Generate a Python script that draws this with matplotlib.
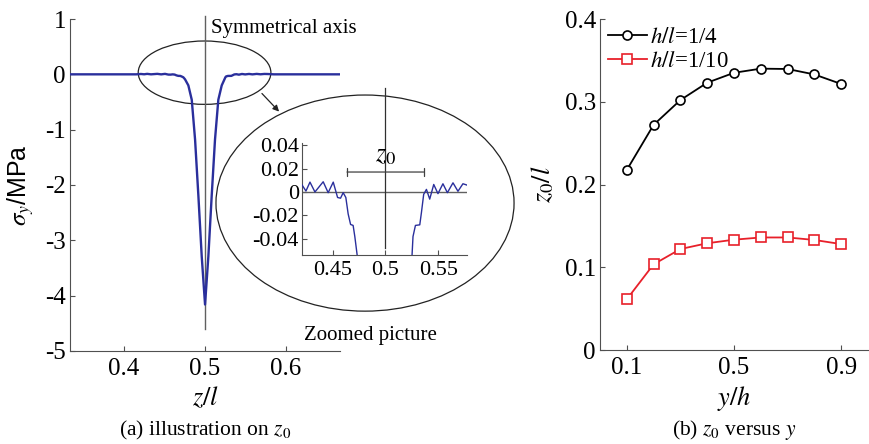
import numpy as np
import matplotlib
matplotlib.use('Agg')
import matplotlib.pyplot as plt
from matplotlib.patches import Ellipse

plt.rcParams['font.family'] = 'Liberation Serif'
plt.rcParams['mathtext.fontset'] = 'stix'
plt.rcParams['axes.unicode_minus'] = False

# stress along z/l (left panel + zoomed inset)
z_l = [0.3333, 0.4150, 0.4208, 0.4248, 0.4286, 0.4333, 0.4411, 0.4458, 0.4506,
       0.4547, 0.4575, 0.4600, 0.4625, 0.4647, 0.4670, 0.4694, 0.4710, 0.4732,
       0.4753, 0.4794, 0.4836, 0.4877, 0.4918, 0.4959, 0.5000,
       0.5041, 0.5082, 0.5123, 0.5164, 0.5206, 0.5240, 0.5251, 0.5260, 0.5283,
       0.5324, 0.5340, 0.5361, 0.5387, 0.5418, 0.5456, 0.5496, 0.5543, 0.5585,
       0.5638, 0.5685, 0.5732, 0.5770, 0.5850, 0.6667]
sigma_y = [0.0, 0.0, 0.0064, 0.0008, 0.0084, 0.0000, 0.0087, -0.0006, 0.0084,
           -0.0047, -0.0053, -0.0006, -0.0047, -0.0187, -0.0277, -0.0285, -0.0380, -0.0537,
           -0.09, -0.20, -0.46, -1.18, -2.20, -3.29, -4.16,
           -3.29, -2.20, -1.18, -0.46, -0.20, -0.09, -0.0537, -0.0380, -0.0285,
           -0.0280, -0.0173, -0.0020, 0.0022, -0.0061, 0.0064, -0.0014, 0.0070, -0.0006,
           0.0078, 0.0006, 0.0070, 0.0059, 0.0, 0.0]
z0_left, z0_right = 0.461, 0.5387

# z0/l versus y/h (right panel)
y_h = [0.1, 0.2, 0.3, 0.4, 0.5, 0.6, 0.7, 0.8, 0.9]
z0_quarter = [0.2175, 0.272, 0.302, 0.323, 0.335, 0.340, 0.3396, 0.333, 0.3215]
z0_tenth = [0.0612, 0.1035, 0.122, 0.129, 0.1333, 0.136, 0.136, 0.133, 0.128]

blue = '#2a2f9c'
spine_c = '#505050'


def style_axes(ax, size):
    for s in ['top', 'right']:
        ax.spines[s].set_visible(False)
    for s in ['left', 'bottom']:
        ax.spines[s].set_color(spine_c)
        ax.spines[s].set_linewidth(0.8)
    ax.tick_params(direction='in', length=3.5, width=0.8, color=spine_c,
                   labelsize=size)
    ax.tick_params(axis='x', pad=5)
    ax.tick_params(axis='y', pad=3)


fig = plt.figure(figsize=(8.69, 4.44), dpi=100)

# ---------- (a) ----------
ax1 = fig.add_axes([0.0806, 0.2095, 0.3107, 0.7477])
style_axes(ax1, 18)
ax1.plot(z_l, sigma_y, color=blue, lw=1.7, zorder=3)
ax1.plot([0.5, 0.5], [-4.6, 1.05], color='#606060', lw=1.0, clip_on=False, zorder=2)
ax1.set_xlim(1/3, 2/3)
ax1.set_ylim(-5, 1)
ax1.set_xticks([0.4, 0.5, 0.6])
ax1.set_xticklabels(['0.4', '0.5', '0.6'])
ax1.set_yticks([1, 0, -1, -2, -3, -4, -5])
ax1.set_yticklabels(['1', '0', '-1', '-2', '-3', '-4', '-5'])
ax1.set_xlabel(r'$z/l$', fontsize=19)
ax1.xaxis.set_label_coords(0.5, -0.1)
ax1.set_ylabel(r'$\sigma_y$/MPa', fontsize=18, family='Liberation Sans')
ax1.yaxis.set_label_coords(-0.125, 0.5)

ax1.add_patch(Ellipse((0.4994, 0.03), 0.1638, 1.145, fill=False, ec='#222222',
                      lw=0.9, clip_on=False))
ax1.add_patch(Ellipse((0.6975, -2.327), 0.368, 3.906, fill=False, ec='#222222',
                      lw=0.9, clip_on=False))
ax1.annotate('', xy=(0.5938, -0.71), xytext=(0.5679, -0.31),
             arrowprops=dict(arrowstyle='-|>', color='#222222', lw=0.9,
                             mutation_scale=9), annotation_clip=False)
ax1.text(0.5078, 0.82, 'Symmetrical axis', fontsize=15, va='center', ha='left')
ax1.text(0.6227, -4.72, 'Zoomed picture', fontsize=15, va='center', ha='left',
         clip_on=False)

# zoomed inset
ax_in = fig.add_axes([0.3472, 0.4257, 0.1899, 0.2516])
ax_in.patch.set_alpha(0)
style_axes(ax_in, 16)
ax_in.tick_params(axis='x', pad=4)
ax_in.tick_params(axis='y', pad=2)
ax_in.plot(z_l, sigma_y, color=blue, lw=1.0, zorder=3)
ax_in.axhline(0, color='#606060', lw=1.0, zorder=2)
ax_in.plot([0.5, 0.5], [-0.0478, 0.089], color='#303030', lw=0.9, clip_on=False)
ax_in.set_xlim(0.4208, 0.5768)
ax_in.set_ylim(-0.0537, 0.0415)
ax_in.set_xticks([0.45, 0.5, 0.55])
ax_in.set_xticklabels(['0.45', '0.5', '0.55'])
ax_in.set_yticks([-0.04, -0.02, 0, 0.02, 0.04])
ax_in.set_yticklabels(['-0.04', '-0.02', '0', '0.02', '0.04'])
ax_in.annotate('', xy=(z0_left, 0.017), xytext=(z0_right, 0.017),
               arrowprops=dict(arrowstyle='|-|', color='#404040', lw=0.9,
                               mutation_scale=3))
ax_in.text(0.5, 0.0215, r'$z_0$', fontsize=19, ha='center', va='bottom')

# ---------- (b) ----------
ax2 = fig.add_axes([0.6904, 0.2117, 0.3084, 0.7455])
style_axes(ax2, 18)
ax2.plot(y_h, z0_quarter, color='black', lw=1.3, marker='o', ms=6.5,
         mfc='white', mec='black', mew=1.2, label=r'$h/l$=1/4')
ax2.plot(y_h, z0_tenth, color='#e8202a', lw=1.3, marker='s', ms=6.5,
         mfc='white', mec='#e8202a', mew=1.2, label=r'$h/l$=1/10')
ax2.set_xlim(0, 1)
ax2.set_ylim(0, 0.4)
ax2.set_xticks([0.1, 0.5, 0.9])
ax2.set_xticklabels(['0.1', '0.5', '0.9'])
ax2.set_yticks([0, 0.1, 0.2, 0.3, 0.4])
ax2.set_yticklabels(['0', '0.1', '0.2', '0.3', '0.4'])
ax2.set_xlabel(r'$y/h$', fontsize=19)
ax2.xaxis.set_label_coords(0.5, -0.104)
ax2.set_ylabel(r'$z_0/l$', fontsize=19)
ax2.yaxis.set_label_coords(-0.165, 0.5)
ax2.legend(loc='upper left', bbox_to_anchor=(0.0, 1.0), frameon=False,
           fontsize=16.5, handlelength=1.7, handletextpad=0.15,
           labelspacing=0.12, borderaxespad=0.15, borderpad=0.2)

fig.text(205 / 869, 1 - 430 / 444, r'(a) illustration on $z_0$', fontsize=15.5,
         ha='center', va='center')
fig.text(734 / 869, 1 - 430 / 444, r'(b) $z_0$ versus $y$', fontsize=15.5,
         ha='center', va='center')

fig.savefig('out.png', dpi=100)
